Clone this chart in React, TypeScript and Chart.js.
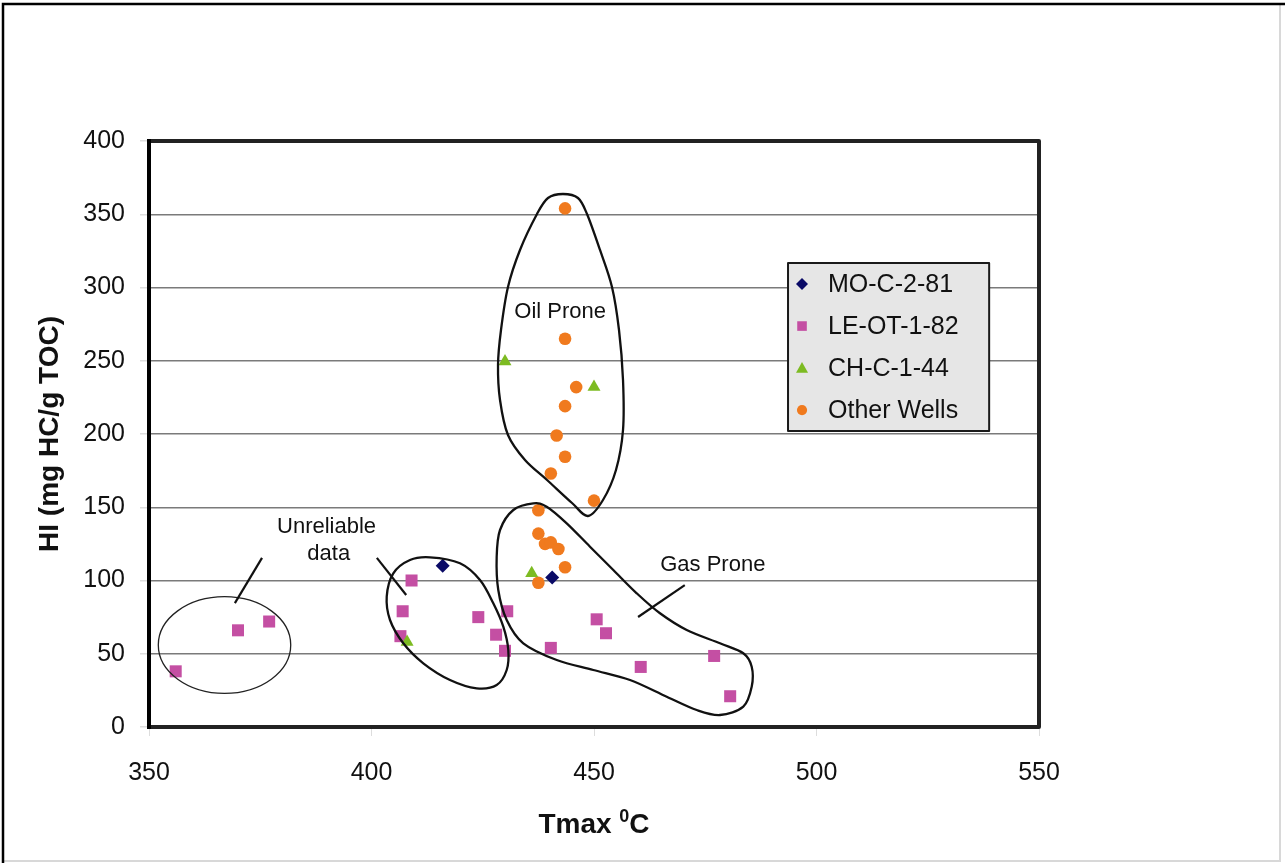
import React, { useEffect, useRef } from 'react';
import { Chart, registerables } from 'chart.js';

Chart.register(...registerables);

// ---- Data ----
const SERIES_NAMES = ['MO-C-2-81', 'LE-OT-1-82', 'CH-C-1-44', 'Other Wells'];

const MO_X = [416, 440.6];
const MO_Y = [110, 102];

const LE_X = [356, 370, 377, 409, 407, 406.5, 424, 428, 430, 430.5, 450.6, 452.7, 440.3, 460.5, 477, 480.6];
const LE_Y = [38, 66, 72, 100, 79, 62, 75, 63, 52, 79, 73.5, 64, 54, 41, 48.5, 21];

const CH_X = [430, 450, 436, 408];
const CH_Y = [249.5, 232, 105, 58];

const OTHER_X = [443.5, 443.5, 446, 443.5, 441.6, 443.5, 440.3, 450, 437.5, 437.5, 439, 440.3, 442, 443.5, 437.5];
const OTHER_Y = [354, 265, 232, 219, 199, 184.5, 173, 154.5, 148, 132, 125, 126, 121.5, 109, 98.5];

const X_TICKS = [350, 400, 450, 500, 550];
const Y_TICKS = [0, 50, 100, 150, 200, 250, 300, 350, 400];

const X_TITLE = 'Tmax ';
const X_TITLE_SUP = '0';
const X_TITLE_END = 'C';
const Y_TITLE = 'HI (mg HC/g TOC)';

// ---- Annotation outlines (in data units) ----
const OIL_OUTLINE: [number, number][] = [
  [443.03, 363.82], [446.4, 361.09], [448.43, 350.17], [451.35, 325.6], [454.04, 300.34],
  [455.62, 270.99], [456.52, 236.86], [456.52, 202.73], [454.94, 175.43], [452.02, 154.95],
  [448.65, 144.03], [445.06, 152.9], [439.44, 168.6], [434.49, 182.25], [430.67, 199.32],
  [428.88, 223.21], [428.43, 247.1], [429.1, 270.99], [430.67, 300.34], [433.37, 325.6],
  [437.19, 350.17], [439.66, 361.09],
];
const GAS_OUTLINE: [number, number][] = [
  [436.36, 152.7], [439.37, 150.38], [443.87, 139.04], [449.1, 123.07], [454.34, 107.17],
  [459.6, 91.26], [464.83, 77.61], [470.83, 66.21], [478.31, 57.13], [483.55, 50.31],
  [485.44, 41.16], [485.44, 27.51], [483.55, 13.86], [478.31, 8.19], [473.08, 11.6],
  [466.34, 20.68], [458.09, 32.08], [449.84, 38.91], [441.62, 45.73], [434.11, 57.13],
  [430.38, 73.04], [428.49, 93.52], [428.13, 116.25], [428.88, 134.47], [431.87, 148.12],
];
const MID_OUTLINE: [number, number][] = [
  [413.15, 115.84], [419.89, 111.74], [424.38, 100.34], [427.37, 84.44], [429.62, 68.46],
  [430.74, 52.56], [430.38, 38.91], [428.13, 28.67], [423.64, 26.42], [417.64, 32.08],
  [411.64, 43.48], [407.15, 57.13], [404.16, 73.04], [403.42, 88.94], [404.9, 104.91],
  [408.65, 113.99],
];
const LEFT_ELLIPSE = { cx: 366.97, cy: 55.97, rx: 14.88, ry: 32.97 };
const LEADERS: [number, number, number, number][] = [
  [369.3, 84.6, 375.4, 115.4],
  [401.2, 115.4, 407.8, 90.1],
  [470.4, 96.9, 459.9, 75.1],
];
const LABELS: { text: string; x: number; y: number }[] = [
  { text: 'Unreliable', x: 389.9, y: 136.7 },
  { text: 'data', x: 390.4, y: 118.1 },
  { text: 'Oil Prone', x: 442.4, y: 283.3 },
  { text: 'Gas Prone', x: 476.7, y: 110.6 },
];
const LEGEND_BOX = { x1: 493.6, x2: 538.8, y1: 316.7, y2: 202 };

const COLORS = ['#0a0a66', '#c44fa3', '#7dbb22', '#f07a1e'];
const FONT = '"Liberation Sans", Arial, sans-serif';

function pts(xs: number[], ys: number[]) {
  return xs.map((x, i) => ({ x, y: ys[i] }));
}

function smoothClosed(ctx: CanvasRenderingContext2D, p: [number, number][]) {
  const n = p.length;
  ctx.beginPath();
  ctx.moveTo(p[0][0], p[0][1]);
  const t = 1 / 6;
  for (let i = 0; i < n; i++) {
    const p0 = p[(i - 1 + n) % n], p1 = p[i], p2 = p[(i + 1) % n], p3 = p[(i + 2) % n];
    ctx.bezierCurveTo(
      p1[0] + (p2[0] - p0[0]) * t, p1[1] + (p2[1] - p0[1]) * t,
      p2[0] - (p3[0] - p1[0]) * t, p2[1] - (p3[1] - p1[1]) * t,
      p2[0], p2[1]
    );
  }
  ctx.closePath();
  ctx.stroke();
}

function drawMarker(ctx: CanvasRenderingContext2D, kind: number, x: number, y: number, r: number, color: string) {
  ctx.fillStyle = color;
  ctx.beginPath();
  if (kind === 0) {
    ctx.moveTo(x, y - r); ctx.lineTo(x + r, y); ctx.lineTo(x, y + r); ctx.lineTo(x - r, y);
  } else if (kind === 1) {
    ctx.rect(x - r * 0.8, y - r * 0.8, r * 1.6, r * 1.6);
  } else if (kind === 2) {
    ctx.moveTo(x, y - r); ctx.lineTo(x + r, y + r * 0.8); ctx.lineTo(x - r, y + r * 0.8);
  } else {
    ctx.arc(x, y, r * 0.85, 0, Math.PI * 2);
  }
  ctx.closePath();
  ctx.fill();
}

const overlayPlugin = {
  id: 'overlay',
  beforeDraw(chart: any) {
    const ctx = chart.ctx as CanvasRenderingContext2D;
    ctx.save();
    ctx.fillStyle = '#ffffff';
    ctx.fillRect(0, 0, chart.width, chart.height);
    // outer frame
    ctx.strokeStyle = '#d8d8d8';
    ctx.lineWidth = 2;
    ctx.beginPath();
    ctx.moveTo(chart.width - 5, 4); ctx.lineTo(chart.width - 5, chart.height - 2);
    ctx.lineTo(3, chart.height - 2);
    ctx.stroke();
    ctx.strokeStyle = '#000';
    ctx.lineWidth = 2.5;
    ctx.beginPath();
    ctx.moveTo(3, chart.height); ctx.lineTo(3, 4); ctx.lineTo(chart.width, 4);
    ctx.stroke();
    ctx.restore();
  },
  afterDatasetsDraw(chart: any) {
    const ctx = chart.ctx as CanvasRenderingContext2D;
    const xs = chart.scales.x, ys = chart.scales.y;
    const px = (v: number) => xs.getPixelForValue(v);
    const py = (v: number) => ys.getPixelForValue(v);
    const ca = chart.chartArea;
    ctx.save();

    // outlines
    ctx.strokeStyle = '#111';
    ctx.lineWidth = 2.3;
    ctx.lineJoin = 'round';
    [OIL_OUTLINE, GAS_OUTLINE, MID_OUTLINE].forEach((o) => {
      smoothClosed(ctx, o.map(([a, b]) => [px(a), py(b)] as [number, number]));
    });
    ctx.lineWidth = 1.3;
    ctx.strokeStyle = '#222';
    ctx.beginPath();
    ctx.ellipse(px(LEFT_ELLIPSE.cx), py(LEFT_ELLIPSE.cy),
      Math.abs(px(LEFT_ELLIPSE.cx + LEFT_ELLIPSE.rx) - px(LEFT_ELLIPSE.cx)),
      Math.abs(py(LEFT_ELLIPSE.cy + LEFT_ELLIPSE.ry) - py(LEFT_ELLIPSE.cy)), 0, 0, Math.PI * 2);
    ctx.stroke();

    ctx.lineWidth = 2.2;
    ctx.strokeStyle = '#111';
    LEADERS.forEach(([a, b, c, d]) => {
      ctx.beginPath();
      ctx.moveTo(px(a), py(b));
      ctx.lineTo(px(c), py(d));
      ctx.stroke();
    });

    ctx.fillStyle = '#111';
    ctx.font = `22px ${FONT}`;
    ctx.textAlign = 'center';
    ctx.textBaseline = 'middle';
    LABELS.forEach((l) => ctx.fillText(l.text, px(l.x), py(l.y)));

    // plot border
    ctx.lineWidth = 4;
    ctx.strokeStyle = '#222';
    ctx.strokeRect(ca.left, ca.top, ca.right - ca.left, ca.bottom - ca.top);
    ctx.strokeStyle = '#000';
    ctx.beginPath();
    ctx.moveTo(ca.left, ca.top - 2); ctx.lineTo(ca.left, ca.bottom + 2);
    ctx.stroke();

    // legend
    const lx1 = px(LEGEND_BOX.x1), lx2 = px(LEGEND_BOX.x2);
    const ly1 = py(LEGEND_BOX.y1), ly2 = py(LEGEND_BOX.y2);
    ctx.fillStyle = '#e6e6e6';
    ctx.fillRect(lx1, ly1, lx2 - lx1, ly2 - ly1);
    ctx.lineWidth = 2;
    ctx.strokeStyle = '#1a1a1a';
    ctx.strokeRect(lx1, ly1, lx2 - lx1, ly2 - ly1);
    const rowH = (ly2 - ly1) / SERIES_NAMES.length;
    ctx.font = `25px ${FONT}`;
    ctx.textAlign = 'left';
    ctx.textBaseline = 'middle';
    SERIES_NAMES.forEach((name, i) => {
      const cy = ly1 + rowH * (i + 0.5);
      drawMarker(ctx, i, lx1 + 14, cy, 6, COLORS[i]);
      ctx.fillStyle = '#111';
      ctx.fillText(name, lx1 + 40, cy + 1);
    });

    // axis titles
    ctx.fillStyle = '#111';
    const big = `bold 28px ${FONT}`;
    const small = `bold 18px ${FONT}`;
    ctx.font = big;
    const w1 = ctx.measureText(X_TITLE).width;
    const w3 = ctx.measureText(X_TITLE_END).width;
    ctx.font = small;
    const w2 = ctx.measureText(X_TITLE_SUP).width;
    const total = w1 + w2 + w3;
    const cx = (ca.left + ca.right) / 2;
    let sx = cx - total / 2;
    const base = ca.bottom + 106;
    ctx.textAlign = 'left';
    ctx.textBaseline = 'alphabetic';
    ctx.font = big;
    ctx.fillText(X_TITLE, sx, base);
    sx += w1;
    ctx.font = small;
    ctx.fillText(X_TITLE_SUP, sx, base - 11);
    sx += w2;
    ctx.font = big;
    ctx.fillText(X_TITLE_END, sx, base);

    ctx.translate(50, (ca.top + ca.bottom) / 2);
    ctx.rotate(-Math.PI / 2);
    ctx.textAlign = 'center';
    ctx.textBaseline = 'middle';
    ctx.fillText(Y_TITLE, 0, 0);
    ctx.restore();
  },
};

export default function App() {
  const ref = useRef<HTMLCanvasElement | null>(null);
  useEffect(() => {
    document.body.style.margin = '0';
    const canvas = ref.current;
    if (!canvas) return;
    const chart = new Chart(canvas, {
      type: 'scatter',
      data: {
        datasets: [
          { label: SERIES_NAMES[0], data: pts(MO_X, MO_Y), pointStyle: 'rectRot', pointRadius: 7, backgroundColor: COLORS[0], borderColor: COLORS[0], borderWidth: 0, order: 0 },
          { label: SERIES_NAMES[1], data: pts(LE_X, LE_Y), pointStyle: 'rect', pointRadius: 8.5, backgroundColor: COLORS[1], borderColor: COLORS[1], borderWidth: 0, order: 3 },
          { label: SERIES_NAMES[2], data: pts(CH_X, CH_Y), pointStyle: 'triangle', pointRadius: 7.5, backgroundColor: COLORS[2], borderColor: COLORS[2], borderWidth: 0, order: 1 },
          { label: SERIES_NAMES[3], data: pts(OTHER_X, OTHER_Y), pointStyle: 'circle', pointRadius: 6.3, backgroundColor: COLORS[3], borderColor: COLORS[3], borderWidth: 0, order: 2 },
        ],
      },
      options: {
        animation: false,
        responsive: false,
        devicePixelRatio: 1,
        layout: { padding: { left: 0, top: 141, right: 246, bottom: 0 } },
        plugins: { legend: { display: false }, tooltip: { enabled: false } },
        scales: {
          x: {
            type: 'linear',
            min: X_TICKS[0],
            max: X_TICKS[X_TICKS.length - 1],
            afterFit: (s: any) => { s.height = 136; },
            afterBuildTicks: (s: any) => { s.ticks = X_TICKS.map((v) => ({ value: v })); },
            grid: { drawOnChartArea: false, drawTicks: true, tickLength: 9, tickColor: '#dddddd' },
            border: { display: false },
            ticks: { color: '#111', font: { family: FONT, size: 25 }, padding: 22, maxRotation: 0 },
          },
          y: {
            type: 'linear',
            min: Y_TICKS[0],
            max: Y_TICKS[Y_TICKS.length - 1],
            afterFit: (s: any) => { s.width = 149; },
            afterBuildTicks: (s: any) => { s.ticks = Y_TICKS.map((v) => ({ value: v })); },
            grid: { color: '#7a7a7a', lineWidth: 1.5, drawTicks: true, tickLength: 9, tickColor: '#dddddd' },
            border: { display: false },
            ticks: { color: '#111', font: { family: FONT, size: 25 }, padding: 15 },
          },
        },
      },
      plugins: [overlayPlugin],
    });
    return () => chart.destroy();
  }, []);
  return (
    <div style={{ width: 1285, height: 863 }}>
      <canvas ref={ref} width={1285} height={863} style={{ display: 'block' }} />
    </div>
  );
}
